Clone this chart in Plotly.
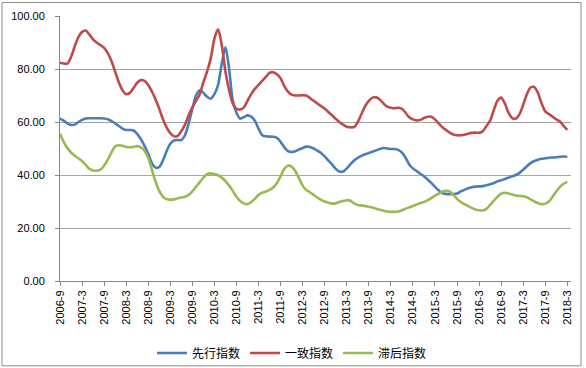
import plotly.graph_objects as go

# Monthly categories 2006-9 .. 2018-3
months = []
y, m = 2006, 9
while (y, m) <= (2018, 3):
    months.append(f"{y}-{m}")
    m += 1
    if m > 12:
        m = 1
        y += 1

tick_labels = ["2006-9", "2007-3", "2007-9", "2008-3", "2008-9", "2009-3", "2009-9",
               "2010-3", "2010-9", "2011-3", "2011-9", "2012-3", "2012-9", "2013-3",
               "2013-9", "2014-3", "2014-9", "2015-3", "2015-9", "2016-3", "2016-9",
               "2017-3", "2017-9", "2018-3"]

leading = [
    61.3, 60.5, 59.5, 58.9, 59.0, 60.0, 60.8, 61.3, 61.4, 61.4, 61.4, 61.4,
    61.3, 61.0, 60.3, 59.5, 58.5, 57.5, 57.0, 57.0, 56.8, 55.5, 53.5, 51.0,
    48.0, 44.5, 42.8, 43.0, 45.5, 49.0, 51.8, 53.0, 53.2, 53.2, 55.0, 59.5,
    65.0, 70.0, 72.0, 71.0, 69.5, 68.8, 70.5, 74.0, 82.0, 88.2, 80.0, 68.0,
    63.5, 61.3, 61.8, 62.5, 62.0, 60.5, 57.5, 55.0, 54.6, 54.5, 54.4, 54.0,
    52.5, 50.5, 49.0, 48.7, 49.0, 49.6, 50.2, 50.7, 50.6, 50.0, 49.2, 48.3,
    47.0, 45.5, 44.0, 42.3, 41.3, 41.3, 42.5, 44.0, 45.5, 46.5, 47.2, 47.8,
    48.3, 48.8, 49.3, 49.8, 50.2, 50.0, 49.8, 49.8, 49.5, 48.5, 46.5, 44.0,
    42.5, 41.5, 40.5, 39.5, 38.3, 37.0, 35.5, 34.2, 33.2, 32.8, 32.8, 32.8,
    33.0, 33.8, 34.4, 35.0, 35.4, 35.6, 35.7, 35.8, 36.1, 36.5, 37.0, 37.6,
    38.0, 38.5, 39.0, 39.5, 40.0, 40.8, 42.0, 43.3, 44.5, 45.3, 45.8, 46.1,
    46.3, 46.5, 46.6, 46.7, 46.9, 47.0, 46.9,
]

coincident = [
    82.4, 82.1, 82.0, 84.5, 88.5, 92.0, 94.0, 94.5, 93.0, 91.2, 90.0, 89.0,
    88.0, 86.0, 83.0, 79.0, 75.0, 72.0, 70.5, 71.0, 72.8, 74.8, 75.8, 75.5,
    74.0, 71.5, 68.5, 65.0, 61.0, 58.0, 55.8, 54.6, 54.8, 56.5, 59.0, 62.5,
    65.5, 68.0, 70.5, 75.0, 79.0, 84.0, 91.5, 95.0, 89.0, 79.0, 72.0, 67.0,
    65.0, 64.7, 65.5, 68.0, 70.5, 72.5, 74.0, 75.5, 77.0, 78.5, 78.8, 78.0,
    76.5, 73.5, 71.5, 70.3, 70.0, 70.0, 70.1, 70.0, 69.0, 68.0, 67.0, 66.0,
    65.0, 63.8, 62.5, 61.2, 60.0, 59.0, 58.2, 58.0, 58.1, 60.0, 63.0, 66.0,
    68.0, 69.2, 69.3, 68.5, 67.0, 65.8, 65.4, 65.2, 65.4, 65.0, 63.5, 61.8,
    61.0, 60.6, 60.8, 61.5, 62.0, 62.0, 61.0, 59.5, 58.0, 57.0, 56.0, 55.3,
    55.0, 55.0, 55.2, 55.6, 55.9, 56.0, 55.9, 56.5, 58.5, 60.5, 64.5, 68.0,
    69.2, 67.0, 63.5, 61.5, 61.3, 63.0, 66.5, 70.5, 73.0, 73.2, 71.0, 67.0,
    64.0, 63.0, 62.0, 61.0, 60.2, 58.5, 57.0,
]

lagging = [
    55.6, 52.5, 50.2, 48.5, 47.3, 46.3, 45.3, 43.8, 42.3, 41.7, 41.6, 42.0,
    43.5, 45.8, 48.5, 50.8, 51.2, 51.0, 50.6, 50.5, 50.6, 50.9, 50.4, 49.2,
    46.5, 42.0, 37.5, 34.0, 31.8, 30.9, 30.7, 30.8, 31.2, 31.5, 31.8, 32.5,
    33.8, 35.5, 37.3, 39.0, 40.3, 40.6, 40.3, 39.9, 39.0, 37.7, 36.0, 34.0,
    31.8, 30.2, 29.3, 29.0, 29.8, 31.0, 32.5, 33.3, 33.8, 34.4, 35.3, 37.0,
    39.5, 42.3, 43.5, 43.2, 41.5, 38.8, 36.0, 34.3, 33.5, 32.5, 31.5, 30.6,
    30.0, 29.5, 29.2, 29.3, 29.8, 30.2, 30.5, 30.3, 29.3, 28.7, 28.5, 28.3,
    28.0, 27.7, 27.3, 26.9, 26.5, 26.2, 26.1, 26.1, 26.2, 26.7, 27.3, 27.8,
    28.3, 28.9, 29.4, 29.8, 30.5, 31.3, 32.2, 33.0, 33.7, 34.0, 33.8, 32.5,
    31.0, 29.8, 29.0, 28.3, 27.6, 27.0, 26.7, 26.6, 27.2, 28.7, 30.3, 31.8,
    33.0, 33.3, 33.0, 32.6, 32.3, 32.1, 32.0, 31.6, 30.8, 30.0, 29.4, 29.0,
    29.2, 30.0, 31.8, 33.8, 35.5, 36.7, 37.4,
]

series = [
    ("先行指数", leading, "#4A7EBB"),
    ("一致指数", coincident, "#BE4B48"),
    ("滞后指数", lagging, "#98B954"),
]

fig = go.Figure()
for name, vals, color in series:
    fig.add_trace(go.Scatter(
        x=list(range(len(months))), y=vals, name=name, mode="lines",
        line=dict(color=color, width=2.6, shape="spline", smoothing=0.8),
        customdata=months, hovertemplate="%{customdata}: %{y:.2f}<extra>" + name + "</extra>",
    ))

font_family = "Liberation Sans, Arial, Noto Sans CJK SC, sans-serif"
tickvals = [months.index(t) for t in tick_labels]

fig.update_layout(
    width=586, height=368,
    margin=dict(l=60, r=15, t=15.5, b=87, autoexpand=False),
    paper_bgcolor="white", plot_bgcolor="white",
    font=dict(family=font_family, size=11, color="#000000"),
    showlegend=True,
    legend=dict(orientation="h", xref="container", yref="container",
                x=292 / 586, xanchor="center", y=1 - 353 / 368, yanchor="middle",
                font=dict(size=12, family="Noto Sans CJK SC, sans-serif"),
                itemwidth=30, tracegroupgap=0, bgcolor="rgba(0,0,0,0)"),
    xaxis=dict(range=[0, 139], tickmode="array", tickvals=tickvals, ticktext=tick_labels,
               tickangle=-90, showgrid=False, zeroline=False, automargin=False,
               showline=True, linecolor="#868686", linewidth=1,
               ticks="outside", ticklen=4, tickcolor="#868686",
               tickfont=dict(size=11)),
    yaxis=dict(range=[0, 100], tickvals=[0, 20, 40, 60, 80, 100], automargin=False,
               tickformat=".2f", showgrid=True, gridcolor="#A6A6A6", gridwidth=1,
               zeroline=False, showline=True, linecolor="#868686", linewidth=1,
               ticks="outside", ticklen=4, tickcolor="#868686",
               ticklabelstandoff=8, tickfont=dict(size=11)),
    shapes=[dict(type="rect", xref="paper", yref="paper",
                 x0=(2 - 60) / 511, x1=(581 - 60) / 511,
                 y0=(281 - 366) / 265.5, y1=(281 - 2) / 265.5,
                 line=dict(color="#8C8C8C", width=1), fillcolor="rgba(0,0,0,0)",
                 layer="below")],
)

fig.write_html(
    "out.html",
    config={"displayModeBar": False},
    post_script="document.body.style.margin='0';document.body.style.overflow='hidden';",
)
